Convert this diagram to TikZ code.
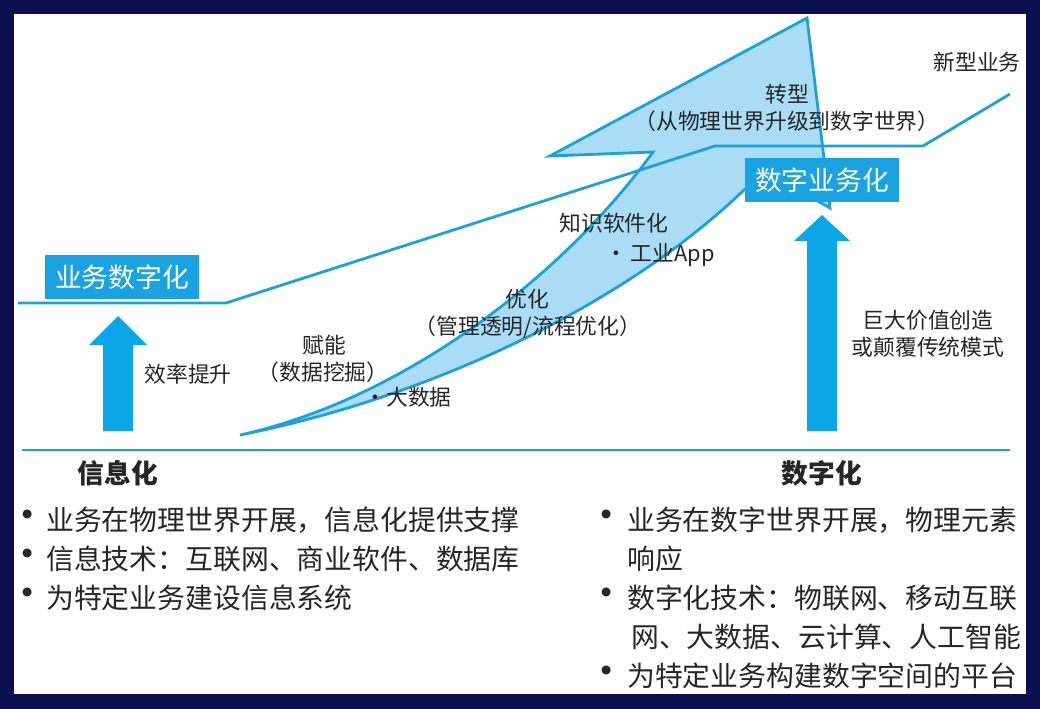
\documentclass[tikz,border=0pt]{standalone}
\usepackage{fontspec}
\setmainfont{Noto Sans CJK SC}
\usetikzlibrary{positioning}

\definecolor{navy}{HTML}{0C0F4D}
\definecolor{lineblue}{HTML}{1DA1DA}
\definecolor{boxblue}{HTML}{1AA3E0}
\definecolor{paleblue}{HTML}{AADCF6}
\definecolor{arrowblue}{HTML}{0BA6E8}
\definecolor{ink}{HTML}{262626}

\tikzstyle{track}=[draw=lineblue,line width=2pt,line join=miter]
\tikzstyle{bolt}=[fill=paleblue,draw=lineblue,line width=2pt,line join=miter]
\tikzstyle{uparrow}=[fill=arrowblue]
\tikzstyle{tag}=[fill=boxblue,text=white,inner sep=0pt,minimum width=3.85cm,minimum height=1.09cm,font=\fontsize{19}{19}\selectfont]
\tikzstyle{note}=[text=ink,inner sep=0pt,font=\fontsize{15.5}{18}\selectfont]
\tikzstyle{head}=[text=ink,inner sep=0pt,font=\fontsize{19}{19}\selectfont\bfseries]
\tikzstyle{item}=[text=ink,inner sep=0pt,anchor=west,font=\fontsize{19.8}{20}\selectfont]
\tikzstyle{dot}=[text=ink,inner sep=0pt,font=\fontsize{30}{30}\selectfont]
\newcommand{\pxscale}{0.025cm}

\begin{document}
\begin{tikzpicture}[x=\pxscale, y=-\pxscale]
    % Frame round the picture
    \fill[navy] (0,0) rectangle (1040,709);
    \fill[white] (14,14) rectangle (1026,694);

    % The bolt that climbs from information to digital
    \path[bolt] (240,435) .. controls (400,400) and (560,280) .. (653,152)
        -- (550,156) -- (807,18) -- (830,208) -- (816,200) -- (745,189)
        .. controls (630,300) and (440,395) .. (240,435) -- cycle;

    % First we place the corners of the business line
    \foreach \x/\y/\name in {18/303/b1, 226/303/b2, 715/146/b3, 923/146/b4, 1010/94/b5, 22/450/g1, 1010/450/g2}
        \coordinate (\name) at (\x,\y);
    \path[track] (b1) -- (b2) -- (b3) -- (b4) -- (b5);
    \path[track] (g1) -- (g2);

    % Two big arrows
    \path[uparrow] (103,431) -- (103,345) -- (89,345) -- (118,316) -- (147,345) -- (133,345) -- (133,431) -- cycle;
    \path[uparrow] (807,431) -- (807,241) -- (794,241) -- (822,215) -- (850,241) -- (837,241) -- (837,431) -- cycle;

    % Boxes
    \node[tag] (bizdigit) at (122,277) {业务数字化};
    \node[tag] (digitbiz) at (822,180) {数字业务化};

    % Notes along the bolt and the arrows
    \foreach \x/\y/\name/\text in {977/62/newbiz/新型业务, 787/94/turn/转型, 787/121/turnwhy/（从物理世界升级到数字世界）,
        614/223/knowsoft/知识软件化, 660/255/app/•\,工业App, 527/299/optim/优化, 528/327/optimwhy/{（管理透明/流程优化）},
        324/345/enable/赋能, 323/372/enablewhy/（数据挖掘）, 408/397/bigdata/•大数据, 188/374/effic/效率提升,
        928/320/value/巨大价值创造, 928/347/disrupt/或颠覆传统模式}
        \node[note] (\name) at (\x,\y) {\text};

    % Headings
    \node[head] (info) at (118,473) {信息化};
    \node[head] (digit) at (822,473) {数字化};

    % Bullet lists
    \foreach \y/\name/\text in {520/l1/业务在物理世界开展，信息化提供支撑, 559/l2/信息技术：互联网、商业软件、数据库, 598/l3/为特定业务建设信息系统}
    {
        \node[dot] (\name dot) at (28,\y) {•};
        \node[item] (\name) at (46,\y) {\text};
    }
    \foreach \y/\name/\text in {520/r1/业务在数字世界开展，物理元素, 598/r3/数字化技术：物联网、移动互联, 676/r5/为特定业务构建数字空间的平台}
    {
        \node[dot] (\name dot) at (607,\y) {•};
        \node[item] (\name) at (627,\y) {\text};
    }
    \node[item] (r2) at (627,559) {响应};
    \node[item] (r4) at (631,637) {网、大数据、云计算、人工智能};
\end{tikzpicture}
\end{document}
